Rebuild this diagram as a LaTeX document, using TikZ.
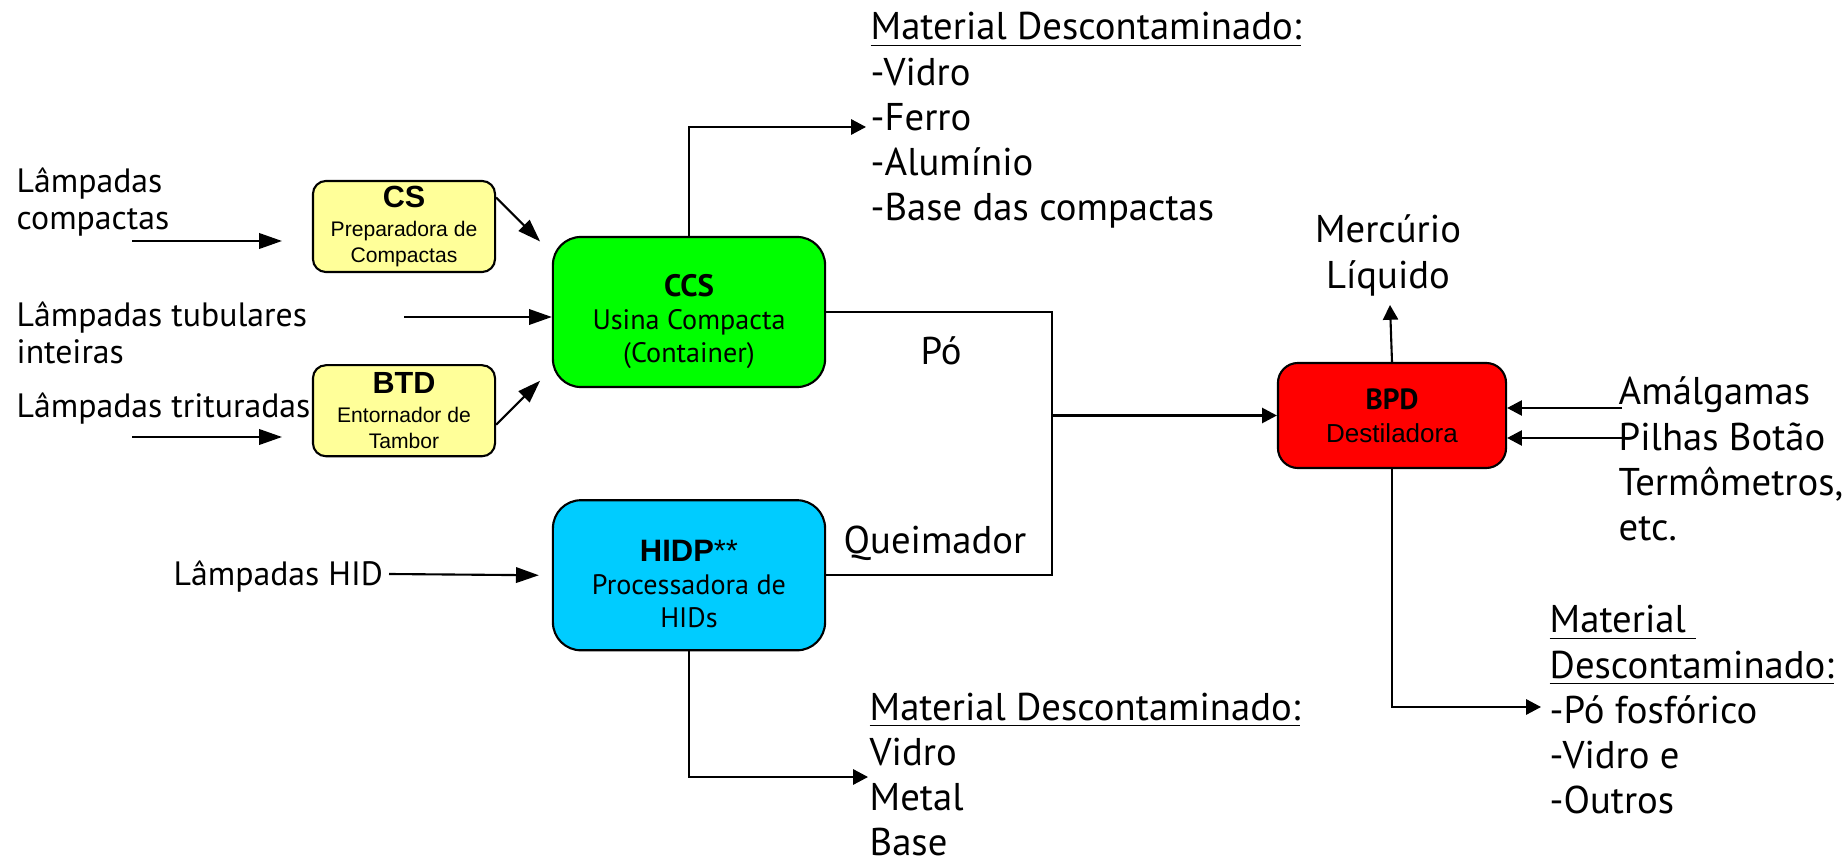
\documentclass[tikz,border=0pt]{standalone}
\usepackage{fontspec}
\setmainfont{PT Sans}
\newfontfamily\arialfont{Liberation Sans}
\usetikzlibrary{arrows.meta,positioning,calc}
\definecolor{csyellow}{HTML}{FFFF99}
\definecolor{ccsgreen}{HTML}{00FF00}
\definecolor{hidcyan}{HTML}{00CCFF}
\definecolor{bpdred}{HTML}{FF0000}
\newcommand{\linhas}[1]{\begin{tabular}[t]{@{}l@{}}#1\end{tabular}}

\begin{document}
\begin{tikzpicture}[x=0.01cm,y=-0.01cm,
  smallbox/.style={draw,line width=0.6pt,rounded corners=0.13cm,fill=csyellow,align=center,inner sep=0pt,
    minimum width=1.82cm,minimum height=0.91cm,font=\arialfont\fontsize{6}{7.4}\selectfont},
  bigbox/.style={draw,line width=0.6pt,rounded corners=0.28cm,align=center,inner sep=0pt,
    minimum width=2.72cm,minimum height=1.5cm,font=\fontsize{8}{9.4}\selectfont},
  lbl/.style={anchor=base west,inner sep=0pt,font=\fontsize{11}{12.8}\selectfont},
  inlbl/.style={anchor=base west,inner sep=0pt,font=\fontsize{9.6}{10.5}\selectfont},
  line/.style={line width=0.6pt},
  arr/.style={line,-{Triangle[length=6.5pt,width=4.4pt]}},
  arrs/.style={line,-{Triangle[length=4.2pt,width=4.3pt]}}
]
\useasboundingbox (0,0) rectangle (1848,861);

\node[smallbox] (CS) at (404,226.5) {{\fontsize{8.7}{8.7}\selectfont\bfseries CS}\\[0.6pt]Preparadora de\\Compactas};
\node[smallbox,below=0.91cm of CS] (BTD) {{\fontsize{8.7}{8.7}\selectfont\bfseries BTD}\\[0.8pt]Entornador de\\Tambor};
\node[bigbox,fill=ccsgreen] (CCS) at (689,312) {{\fontsize{8.8}{9.4}\selectfont\rule{0pt}{11.5pt}\bfseries CCS}\\Usina Compacta\\(Container)};
\node[bigbox,fill=hidcyan,below=1.11cm of CCS] (HIDP) {{\arialfont\fontsize{8.8}{9.4}\selectfont\rule{0pt}{10.9pt}\textbf{HIDP}**}\\Processadora de\\HIDs};
\node[bigbox,fill=bpdred,minimum width=2.28cm,minimum height=1.05cm,rounded corners=0.2cm] (BPD) at (1392,415.5)
  {{\fontsize{8.3}{9.7}\selectfont\bfseries BPD}\\{\arialfont\fontsize{7.4}{9.7}\selectfont Destiladora}};

\node[inlbl] (lcomp) at (16,193) {\linhas{Lâmpadas\\compactas}};
\node[inlbl] (ltub) at (16,327) {\linhas{Lâmpadas tubulares\\inteiras}};
\node[inlbl] (ltrit) at (16,418) {Lâmpadas trituradas};
\node[inlbl] (lhid) at (173,586) {Lâmpadas HID};
\node[lbl] (matA) at (870,40) {\linhas{\underline{Material Descontaminado:}\\-Vidro\\-Ferro\\-Alumínio\\-Base das compactas}};
\node[lbl] (po) at (920,365) {Pó};
\node[lbl] (queim) at (843,554) {Queimador};
\node[lbl] (matB) at (869,720) {\linhas{\underline{Material Descontaminado:}\\Vidro\\Metal\\Base}};
\node[lbl,anchor=base] (merc) at (1388,243) {\begin{tabular}[t]{@{}c@{}}Mercúrio\\Líquido\end{tabular}};
\node[lbl] (outros) at (1618,405) {\linhas{Amálgamas\\Pilhas Botão\\Termômetros,\\etc.}};
\node[lbl] (matC) at (1549,633) {\linhas{\underline{Material\ }\\\underline{Descontaminado:}\\-Pó fosfórico\\-Vidro e\\-Outros}};

\coordinate (cmpIn) at (132,241);
\coordinate (tritIn) at (132,437);
\coordinate (tubIn) at (404,317);
\coordinate (hidIn) at (389,574);
\coordinate (junc) at (1052,415.5);
\coordinate (outA) at (866,127);
\coordinate (outB) at (868,777);
\coordinate (outHg) at (1390,305);
\coordinate (outC) at (1541,707);
\coordinate (amIn) at (1622,408);
\coordinate (pilIn) at (1622,438);

\draw[arr] (cmpIn) -- ++(150,0);
\draw[arr] (tritIn) -- ++(150,0);
\draw[arr] (tubIn) -- (tubIn -| CCS.west);
\draw[arr] (hidIn) -- ([xshift=-0.13cm]HIDP.west);
\draw[arr] ([yshift=0.29cm]CS.east) -- ++(44,44);
\draw[arr] ([yshift=-0.14cm]BTD.east) -- ++(44,-44);
\draw[arrs] (CCS.north) |- (outA);
\draw[line] (CCS.east) -| (junc);
\draw[line] (HIDP.east) -| (junc);
\draw[arrs] (junc) -- (BPD.west);
\draw[arrs] (HIDP.south) |- (outB);
\draw[arrs] (BPD.north) -- (outHg);
\draw[arrs] (amIn) -- (amIn -| BPD.east);
\draw[arrs] (pilIn) -- (pilIn -| BPD.east);
\draw[arrs] (BPD.south) |- (outC);
\end{tikzpicture}
\end{document}
